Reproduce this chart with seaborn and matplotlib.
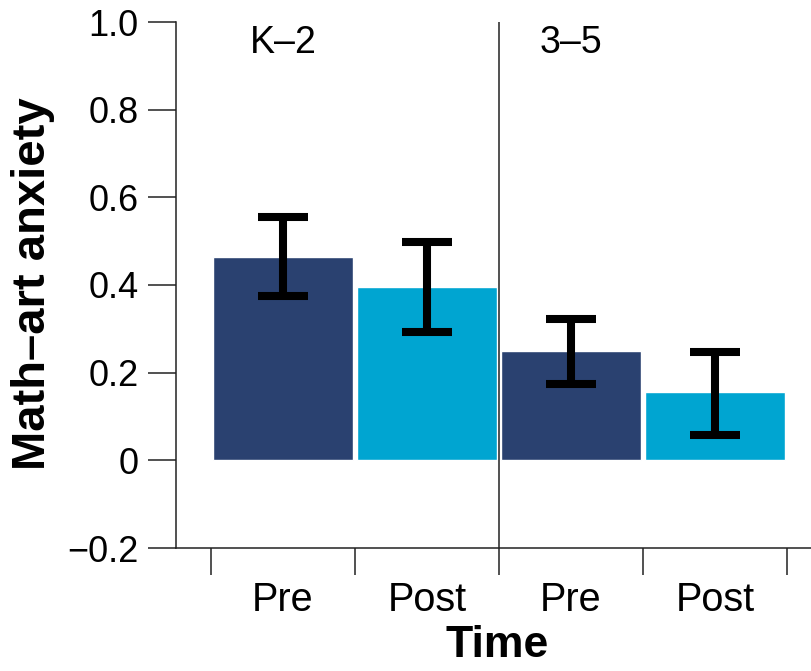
import pandas as pd
import seaborn as sns
import matplotlib.pyplot as plt

# values
grades = ['K–2', 'K–2', '3–5', '3–5']
times = ['Pre', 'Post', 'Pre', 'Post']
means = [0.465, 0.395, 0.25, 0.155]
err_low = [0.375, 0.292, 0.175, 0.057]
err_high = [0.555, 0.499, 0.323, 0.248]
group_labels = ['K–2', '3–5']
yticks = [-0.2, 0, 0.2, 0.4, 0.6, 0.8, 1.0]
ytick_labels = ['\u22120.2', '0', '0.2', '0.4', '0.6', '0.8', '1.0']

df = pd.DataFrame({'grade': grades, 'time': times, 'mean': means})
df['slot'] = [f'{g} {t}' for g, t in zip(grades, times)]

sns.set_style('ticks')
plt.rcParams['font.family'] = ['Liberation Sans', 'DejaVu Sans']
plt.rcParams['text.color'] = 'black'
plt.rcParams['xtick.labelcolor'] = 'black'
plt.rcParams['ytick.labelcolor'] = 'black'
plt.rcParams['axes.labelcolor'] = 'black'

fig = plt.figure(figsize=(8.12, 6.71), dpi=100)
ax = fig.add_axes([176 / 812, 1 - 548 / 671, 636 / 812, 526 / 671])

sns.barplot(data=df, x='slot', y='mean', hue='time', dodge=False,
            palette={'Pre': '#2a4170', 'Post': '#00a5d1'},
            width=0.97, legend=False, ax=ax, errorbar=None, saturation=1)

# error bars
pos = list(range(len(means)))
lo = [m - l for m, l in zip(means, err_low)]
hi = [h - m for m, h in zip(means, err_high)]
ax.errorbar(pos, means, yerr=[lo, hi], fmt='none', ecolor='black',
            elinewidth=5.8, capsize=18, capthick=5.8, zorder=5)

# divider between grade groups
ax.axvline(1.5, color='#222222', lw=1.1, zorder=1)

# group labels
for i, g in enumerate(group_labels):
    ax.text(i * 2, 0.929, g, ha='center', va='baseline', fontsize=27)

ax.set_xlim(-0.743, 3.674)
ax.set_ylim(-0.2, 1.0)
ax.set_yticks(yticks)
ax.set_yticklabels(ytick_labels, fontsize=26)

# major ticks at bar boundaries, labels on minor ticks
ax.set_xticks([-0.5, 0.5, 1.5, 2.5, 3.5])
ax.set_xticklabels([])
ax.set_xticks(pos, minor=True)
ax.set_xticklabels(times, minor=True, fontsize=28.5)
ax.tick_params(axis='x', which='major', length=19.5, width=1.1, color='#222222')
ax.tick_params(axis='x', which='minor', length=0, pad=24)
ax.tick_params(axis='y', length=20, width=1.1, color='#222222', pad=7)

sns.despine(ax=ax)
for s in ['left', 'bottom']:
    ax.spines[s].set_linewidth(1.1)
    ax.spines[s].set_color('#222222')

ax.set_xlabel('Time', fontsize=32, fontweight='bold')
ax.xaxis.label.set_va('baseline')
ax.xaxis.set_label_coords(0.505, -0.208)
ax.set_ylabel('Math–art anxiety', fontsize=34, fontweight='bold')
ax.yaxis.label.set_va('center')
ax.yaxis.set_label_coords(-0.2248, 0.503)

fig.savefig('out.png', dpi=100)
